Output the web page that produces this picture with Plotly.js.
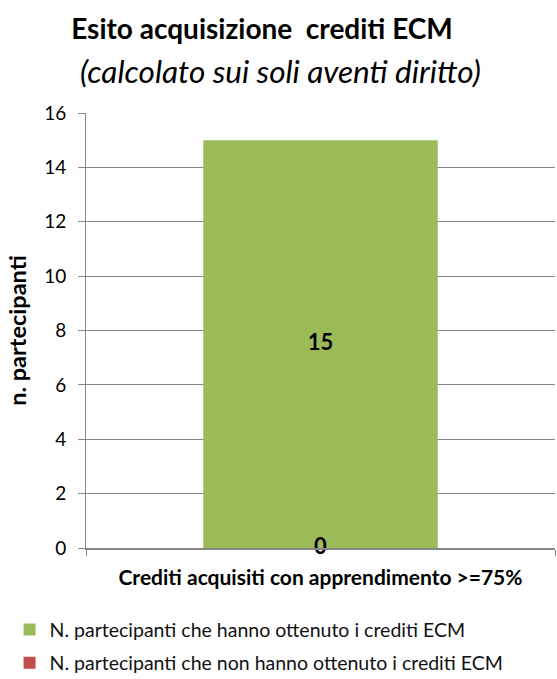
<!DOCTYPE html>
<html>
<head>
<meta charset="utf-8">
<script src="https://cdn.plot.ly/plotly-3.0.1.min.js"></script>
<style>html,body{margin:0;padding:0;background:#fff;}#chart{width:557px;height:679px;}</style>
</head>
<body>
<div id="chart"></div>
<script>
const categories = ["Crediti acquisiti con apprendimento >=75%"];
const seriesNames = ["N. partecipanti che hanno ottenuto i crediti ECM", "N. partecipanti che non hanno ottenuto i crediti ECM"];
const obtained = [15];
const notObtained = [0];
const yTicks = [0, 2, 4, 6, 8, 10, 12, 14, 16];
const titleText = "Esito acquisizione&nbsp; crediti ECM";
const subtitleText = "(calcolato sui soli aventi diritto)";

const FONT = "Lato, 'Open Sans', sans-serif";
const traces = [
  {type: "bar", name: seriesNames[0], x: categories, y: obtained, marker: {color: "#9BBB59"}, width: 0.5, legendgroup: "a", hoverinfo: "skip"},
  {type: "bar", name: seriesNames[1], x: categories, y: notObtained, marker: {color: "#C0504D"}, width: 0.5, legendgroup: "b", hoverinfo: "skip"},
  {type: "scatter", mode: "text", x: categories, y: obtained.map(v => v / 2), text: obtained.map(String), textfont: {family: FONT, size: 22, color: "#000", weight: "bold"}, showlegend: false, hoverinfo: "skip", cliponaxis: false},
  {type: "scatter", mode: "text", x: categories, y: notObtained.map(v => v / 2), text: notObtained.map(String), textfont: {family: FONT, size: 22, color: "#000", weight: "bold"}, showlegend: false, hoverinfo: "skip", cliponaxis: false}
];

const layout = {
  width: 557, height: 679,
  margin: {l: 86, r: 2, t: 113, b: 131, autoexpand: false},
  paper_bgcolor: "#fff", plot_bgcolor: "#fff",
  barmode: "overlay",
  font: {family: FONT, color: "#000"},
  title: {
    text: "<b>" + titleText + "</b>",
    font: {family: FONT, size: 28, color: "#000"},
    x: 262 / 557, xanchor: "center", xref: "container", y: 1 - 29 / 679, yanchor: "middle", yref: "container"
  },
  annotations: [{
    text: "<i>" + subtitleText + "</i>",
    xref: "paper", yref: "paper", x: (280 - 86) / 469, y: (548 - 71) / 435, xanchor: "center", yanchor: "middle",
    showarrow: false, font: {family: FONT, size: 31.5, color: "#000"}
  }],
  xaxis: {
    type: "category", range: [-0.5, 0.5],
    showline: true, linecolor: "#868686", linewidth: 2,
    ticks: "outside", tickson: "boundaries", ticklen: 6, tickcolor: "#868686", tickwidth: 1,
    tickfont: {family: FONT, size: 21, color: "#000", weight: "bold"},
    ticklabelstandoff: 10,
    showgrid: false, fixedrange: true
  },
  yaxis: {
    range: [0, 16], tickvals: yTicks, ticktext: yTicks.map(String),
    showline: true, linecolor: "#868686", linewidth: 1,
    ticks: "outside", ticklen: 7, tickcolor: "#868686",
    tickfont: {family: FONT, size: 19, color: "#000"},
    ticklabelstandoff: 8,
    showgrid: true, gridcolor: "#868686", gridwidth: 1,
    zeroline: false,
    title: {text: "<b>n. partecipanti</b>", font: {family: FONT, size: 23.5, color: "#000"}, standoff: 10},
    fixedrange: true
  },
  showlegend: true,
  legend: {
    orientation: "v", x: -0.163, xanchor: "left", y: -0.143, yanchor: "top",
    font: {family: FONT, size: 19.5, color: "#111"},
    tracegroupgap: 5, traceorder: "grouped", itemwidth: 30
  }
};

Plotly.newPlot("chart", traces, layout, {staticPlot: true, displayModeBar: false});
</script>
</body>
</html>
